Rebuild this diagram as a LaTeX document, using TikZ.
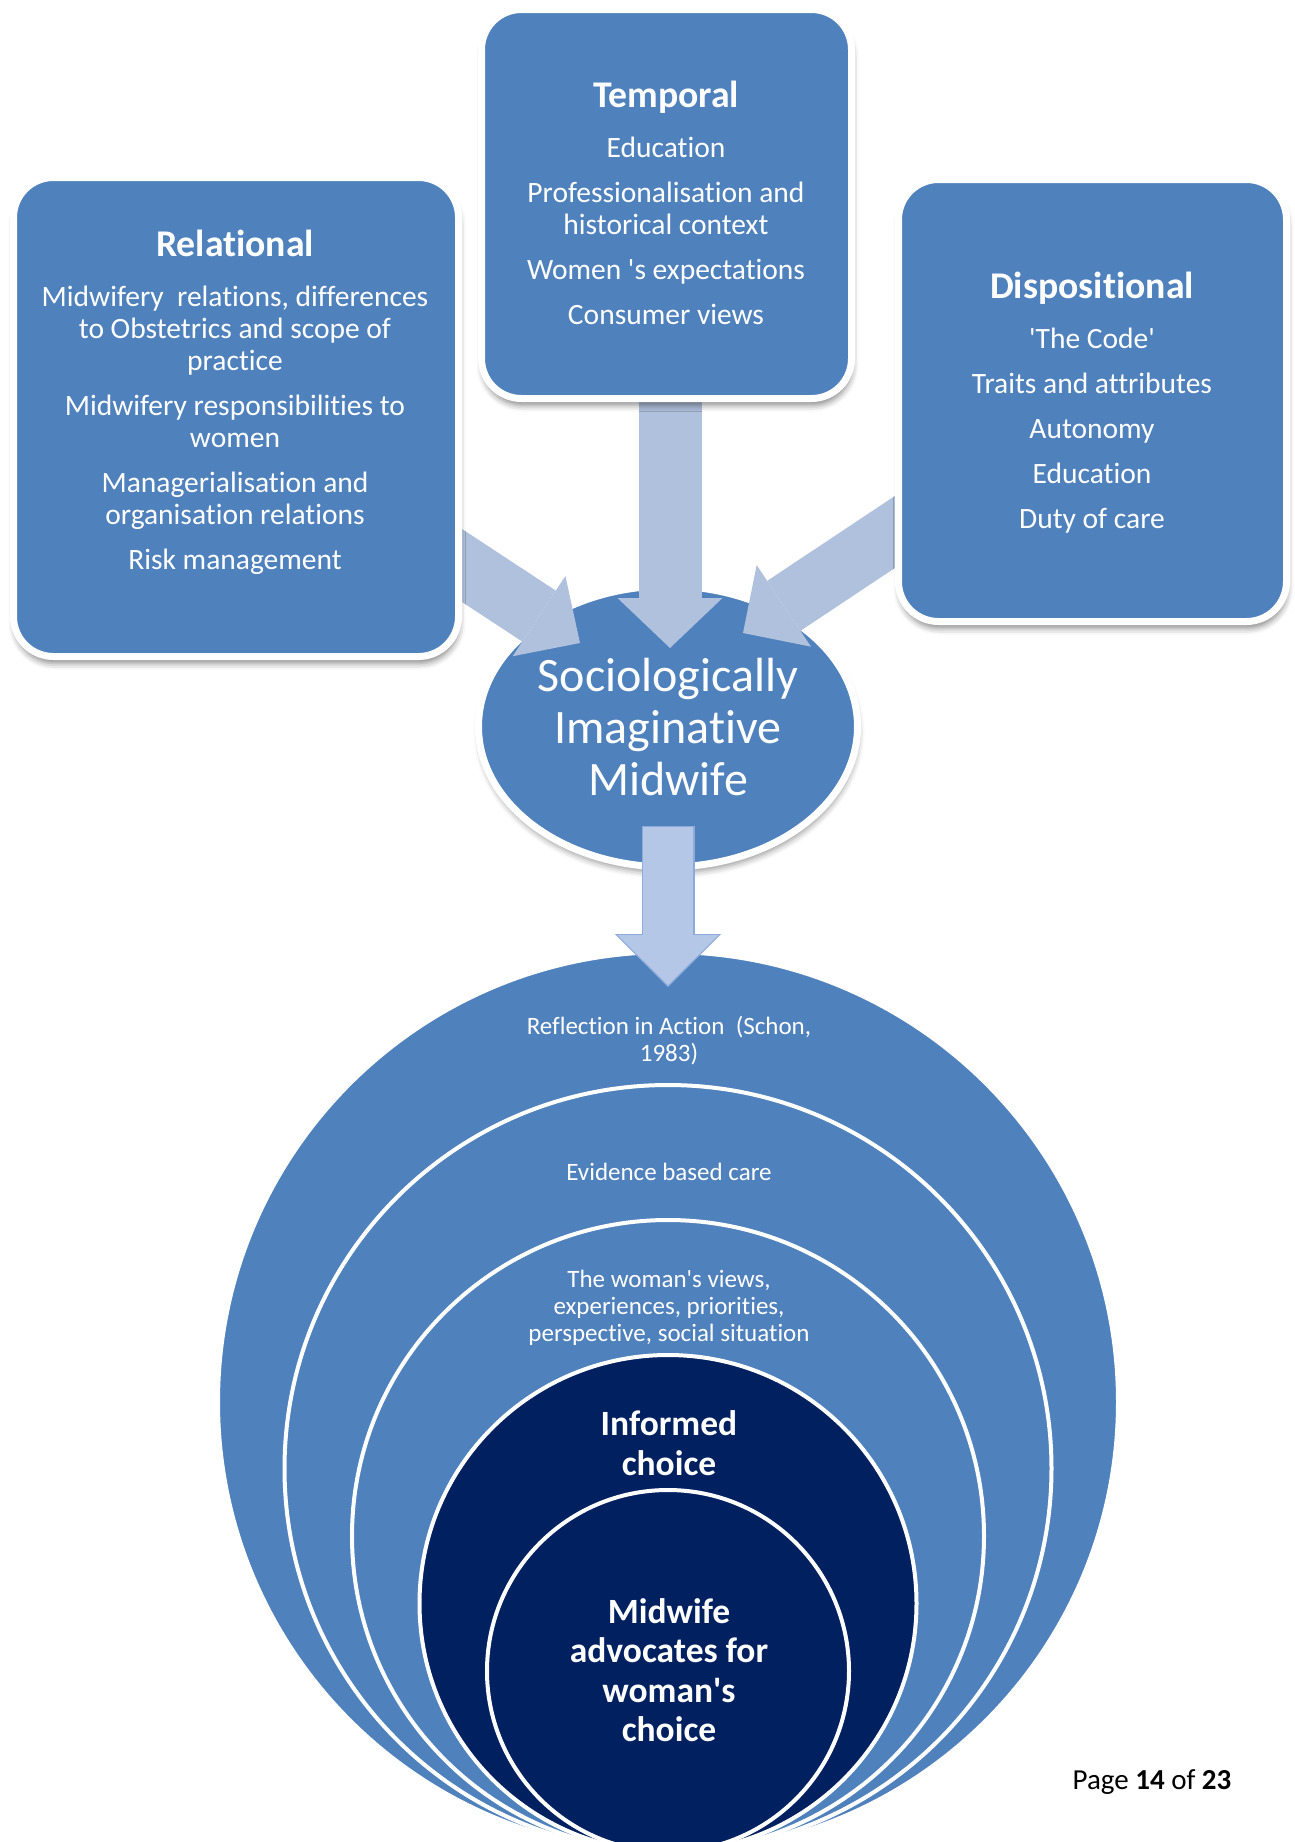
\documentclass[tikz,border=0pt]{standalone}
\usepackage{fontspec}
\setmainfont{Carlito}[Ligatures={TeX,NoCommon}]
\usetikzlibrary{arrows.meta,shapes.geometric,shadows.blur}
\definecolor{boxblue}{HTML}{4F81BD}
\definecolor{arrowblue}{HTML}{B0C1DD}
\definecolor{downblue}{HTML}{B4C7E7}
\definecolor{downedge}{HTML}{8EA9DB}
\definecolor{navy}{HTML}{002060}
\pgfdeclarelayer{background}
\pgfsetlayers{background,main}
\newcommand{\boxtitle}[1]{{\fontsize{37.7}{40}\selectfont\bfseries #1}}
\newcommand{\sq}{\textquotesingle}

\begin{document}
\begin{tikzpicture}[x=1pt,y=-1pt,
    cbox/.style={rectangle, rounded corners=40pt, fill=boxblue, draw=white, line width=7pt,
      blur shadow={shadow xshift=1pt, shadow yshift=-7pt, shadow opacity=45, shadow blur radius=6pt}},
    ctext/.style={text=white, align=center, font=\fontsize{29.5}{32}\selectfont},
    fat/.style={arrowblue, line width=#1},
    ring/.style={circle, draw=white, line width=4pt, inner sep=0pt},
    ringtext/.style={text=white, align=center, font=\fontsize{25}{27}\selectfont},
    coretext/.style={text=white, align=center, font=\fontsize{35.5}{39.5}\selectfont\bfseries}]
    \useasboundingbox (0,0) rectangle (1295,1842);

    \node[cbox, minimum width=445pt, minimum height=479pt] (rel) at (236,417) {};
    \node[cbox, minimum width=370pt, minimum height=389pt] (tmp) at (666.5,204) {};
    \node[cbox, minimum width=388pt, minimum height=442pt] (disp) at (1092.5,400.5) {};

    \node[ctext] (reltxt) at (235,402) {\boxtitle{Relational}\\[18pt]
      Midwifery\ \ relations, differences\\to Obstetrics and scope of\\practice\\[13pt]
      Midwifery responsibilities to\\women\\[13pt]
      Managerialisation and\\organisation relations\\[13pt]
      Risk management};
    \node[ctext] (tmptxt) at (666,203) {\boxtitle{Temporal}\\[18pt]
      Education\\[13pt]
      Professionalisation and\\historical context\\[13pt]
      Women \sq s expectations\\[13pt]
      Consumer views};
    \node[ctext] (disptxt) at (1092,403) {\boxtitle{Dispositional}\\[18pt]
      \sq The Code\sq\\[13pt]
      Traits and attributes\\[13pt]
      Autonomy\\[13pt]
      Education\\[13pt]
      Duty of care};

    \begin{pgfonlayer}{background}
    \node[ring, fill=boxblue, minimum size=900pt] (c1) at (668,1402) {};
    \node[ring, fill=boxblue, minimum size=767pt] (c2) at (668,1468.5) {};
    \node[ring, fill=boxblue, minimum size=632pt] (c3) at (668,1536) {};
    \node[ring, fill=navy, minimum size=497pt] (c4) at (668,1603.5) {};
    \node[ring, fill=navy, minimum size=362pt] (c5) at (668,1671) {};

    \node[ellipse, fill=boxblue, draw=white, line width=7pt, minimum width=379pt, minimum height=281pt,
      inner sep=0pt, text=white, align=center, font=\fontsize{48}{52}\selectfont,
      blur shadow={shadow xshift=1pt, shadow yshift=-6pt, shadow opacity=40, shadow blur radius=6pt}]
      (sim) at (668,726.5) {Sociologically\\Imaginative\\Midwife};

    \coordinate (reltip) at (580,643);
    \coordinate (tmptip) at (670,648);
    \coordinate (disptip) at (743,633);
    \coordinate (dtop) at (668,827);
    \coordinate (dtip) at (668,985);

    \draw[fat=61pt, -{Triangle[width=96pt, length=49pt, line width=0pt]}] (rel.center) -- (reltip);
    \draw[fat=63pt, -{Triangle[width=105pt, length=50pt, line width=0pt]}] (tmp.center -| tmptip) -- (tmptip);
    \draw[fat=60pt, -{Triangle[width=98pt, length=49pt, line width=0pt]}] (disp.center) -- (disptip);

    \draw[downedge, line width=53pt, -{Triangle[width=106pt, length=53pt, line width=0pt]}]
      ([yshift=1.5pt]dtop) -- ([yshift=-2pt]dtip);
    \draw[downblue, line width=50pt, -{Triangle[width=101pt, length=50pt, line width=0pt]}] (dtop) -- (dtip);
    \end{pgfonlayer}

    \node[ringtext] (reflect) at (669,1041) {Reflection in Action\ \ (Schon,\\1983)};
    \node[ringtext] (evidence) at (669,1172) {Evidence based care};
    \node[ringtext] (views) at (669,1308) {The woman\sq s views,\\experiences, priorities,\\perspective, social situation};
    \node[coretext] (informed) at (669,1443) {Informed\\choice};
    \node[coretext] (advocate) at (669,1670) {Midwife\\advocates for\\woman\sq s\\choice};

    \node[font=\fontsize{29}{32}\selectfont] (page) at (1152,1782) {Page \textbf{14} of \textbf{23}};
\end{tikzpicture}
\end{document}
